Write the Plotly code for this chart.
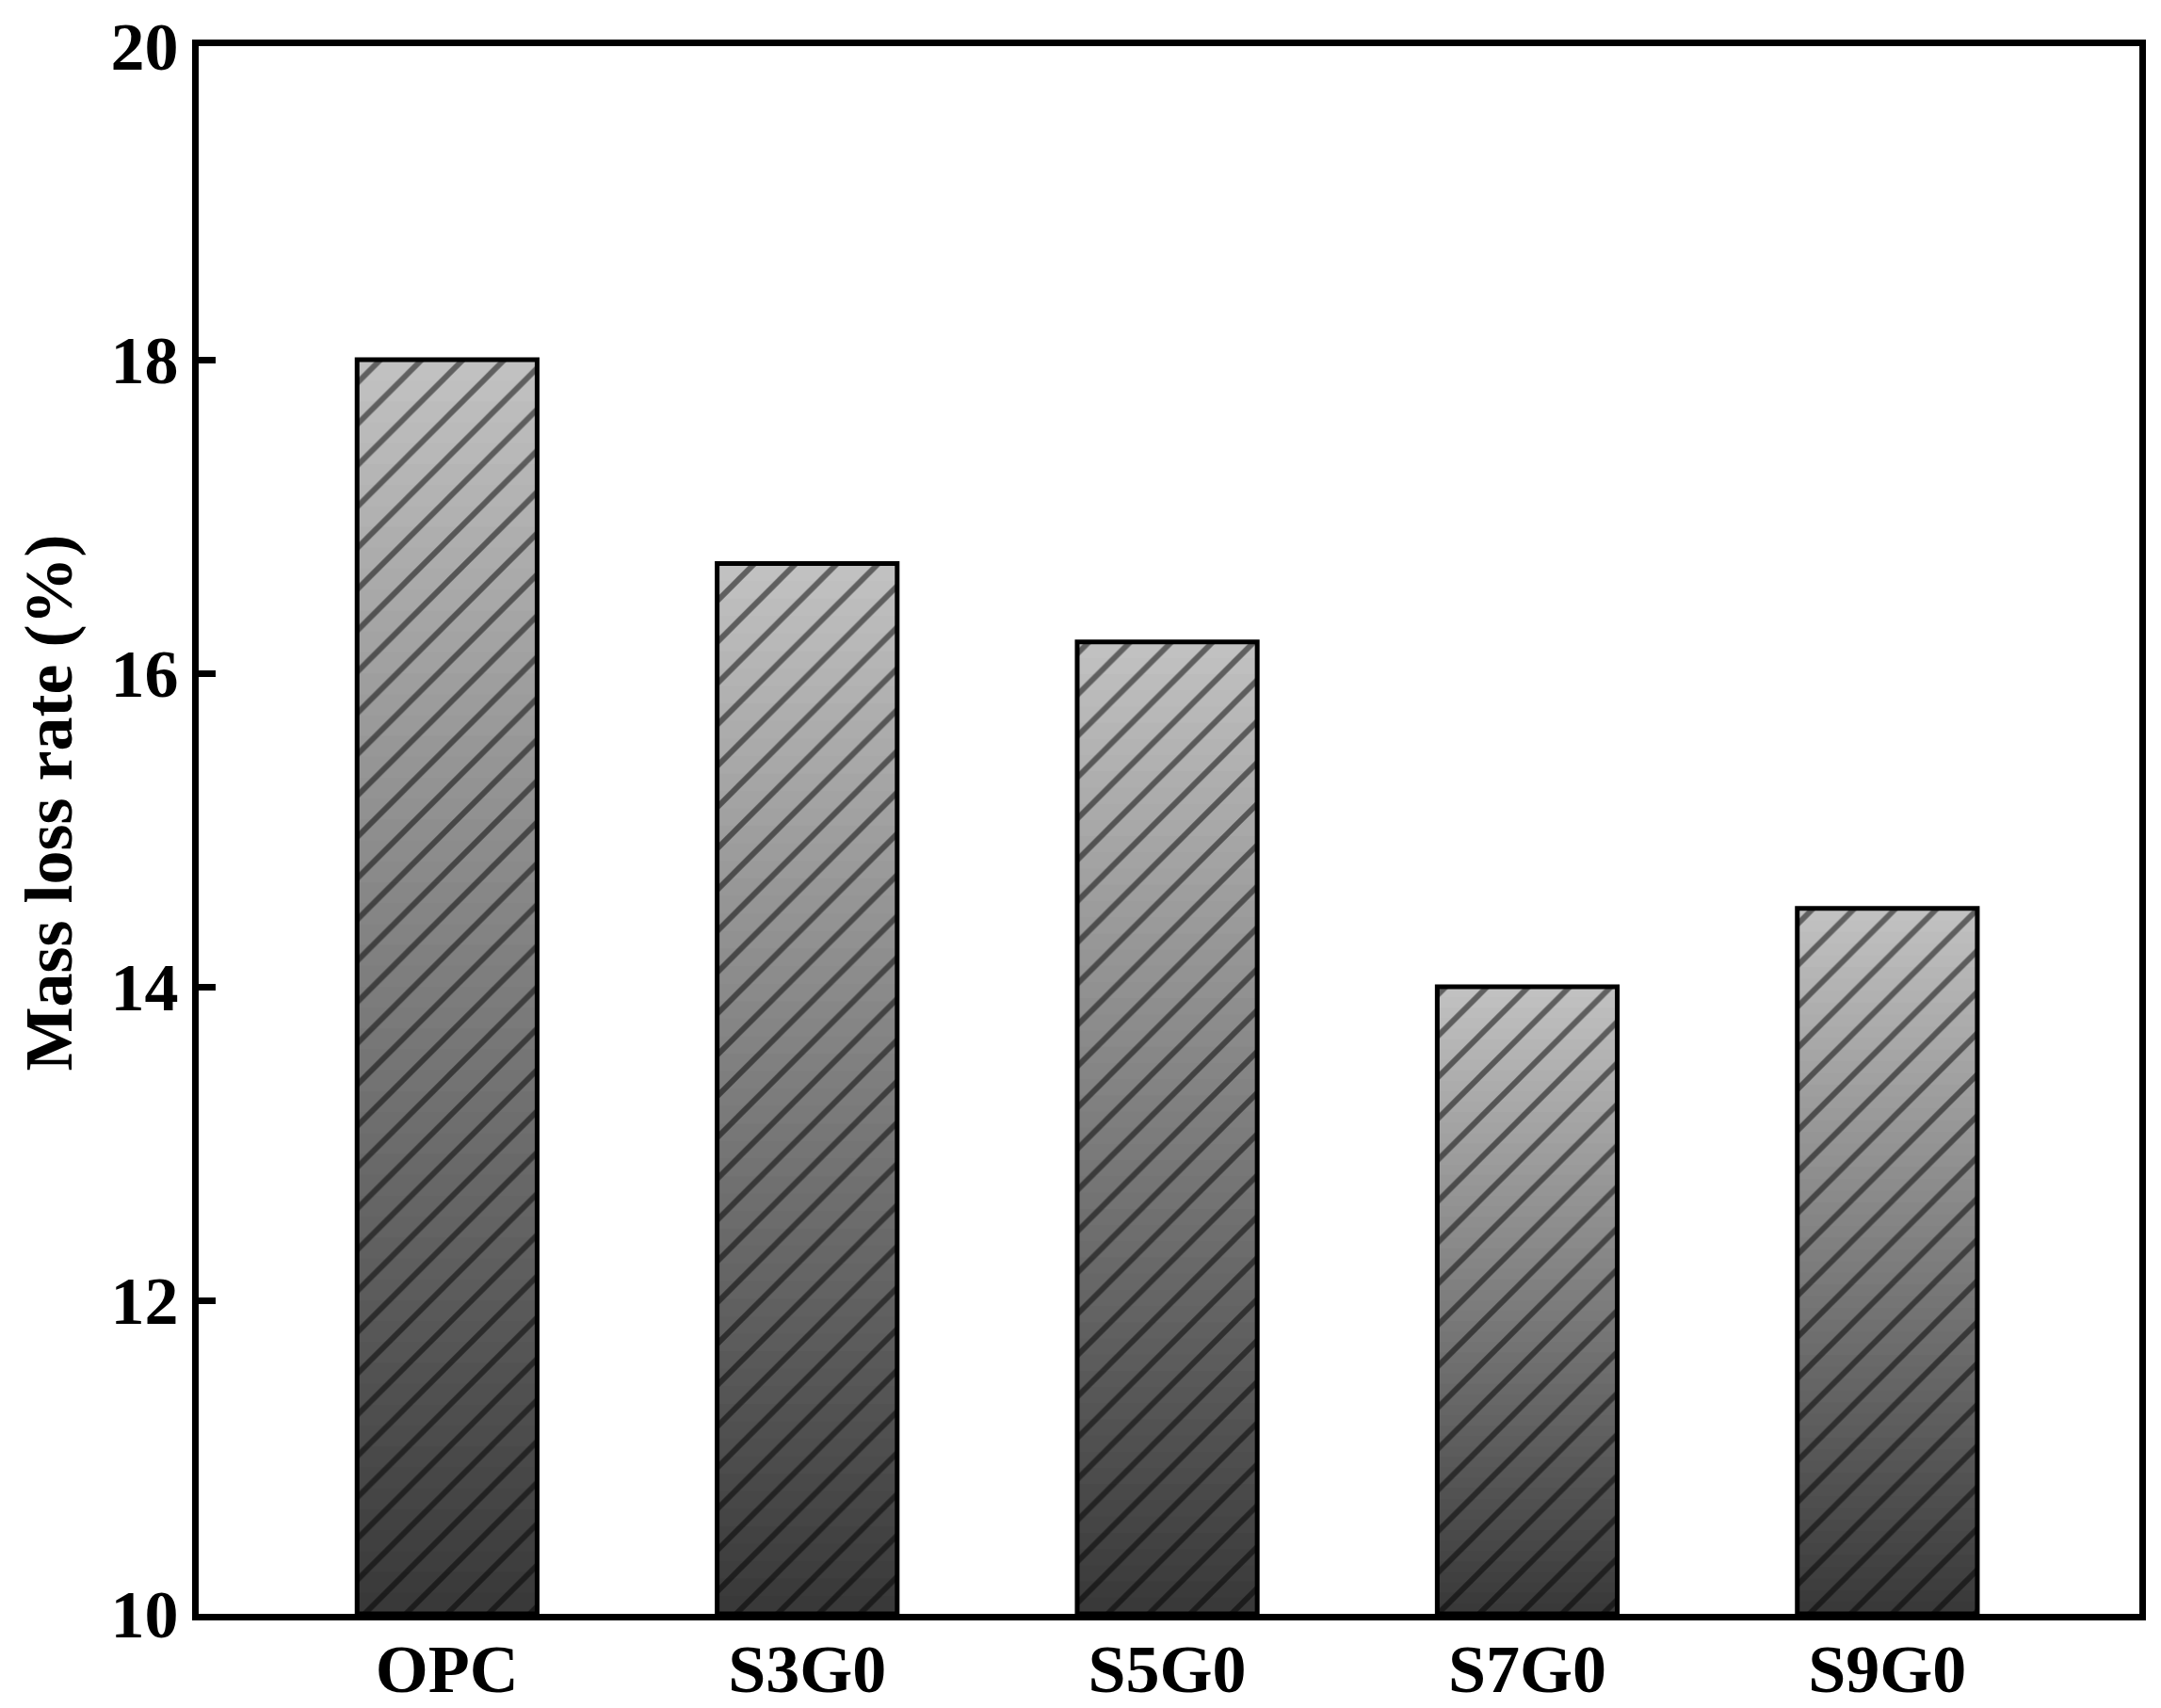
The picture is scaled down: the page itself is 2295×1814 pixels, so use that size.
import plotly.graph_objects as go

# ---- data ----
categories = ["OPC", "S3G0", "S5G0", "S7G0", "S9G0"]
mass_loss = [18.0, 16.7, 16.2, 14.0, 14.5]
y_base = 10
y_ticks = [10, 12, 14, 16, 18, 20]
y_title = "Mass loss rate (%)"

FONT = "Liberation Serif"
FS = 72
N_LEVELS = 60
TOP_GRAY = 194
BOTTOM_GRAY = 56
BAR_W = 0.5

fig = go.Figure()

heights = [v - y_base for v in mass_loss]

# gradient fill: overlapping bars from tallest (lightest) to shortest (darkest)
for k in range(N_LEVELS):
    frac = (N_LEVELS - k) / N_LEVELS
    mid = frac - 0.5 / N_LEVELS
    g = int(round(BOTTOM_GRAY + (TOP_GRAY - BOTTOM_GRAY) * mid))
    fig.add_trace(go.Bar(
        x=categories,
        y=[h * frac for h in heights],
        base=y_base,
        width=BAR_W,
        marker=dict(color=f"rgb({g},{g},{g})", line=dict(width=0)),
        showlegend=False,
        hoverinfo="skip",
    ))

# hatch + outline
fig.add_trace(go.Bar(
    x=categories,
    y=heights,
    base=y_base,
    width=BAR_W,
    marker=dict(
        color="rgba(0,0,0,0)",
        line=dict(color="black", width=5),
        pattern=dict(shape="/", fgcolor="black", bgcolor="rgba(0,0,0,0)",
                     size=31, solidity=0.19, fillmode="overlay"),
    ),
    showlegend=False,
))

fig.update_layout(
    template="none",
    width=2295, height=1814,
    barmode="overlay",
    plot_bgcolor="white", paper_bgcolor="white",
    margin=dict(l=203, r=31, t=41, b=108, autoexpand=False),
    font=dict(family=FONT, color="black", size=FS, weight="bold"),
    annotations=[dict(
        text=y_title, textangle=-90,
        xref="paper", yref="paper", x=0, y=0.5,
        xanchor="center", yanchor="middle",
        xshift=-160, yshift=29, showarrow=False,
        font=dict(family=FONT, size=FS, color="black", weight="bold"),
    )],
)

fig.update_xaxes(
    type="category",
    range=[-0.69, 4.70],
    showline=True, linecolor="black", linewidth=7, mirror=True,
    ticks="", showgrid=False, zeroline=False, automargin=False,
    ticklabelstandoff=-10,
    tickfont=dict(family=FONT, size=FS, color="black", weight="bold"),
)

fig.update_yaxes(
    range=[10, 20],
    tickvals=y_ticks,
    ticktext=[str(t) for t in y_ticks],
    showline=True, linecolor="black", linewidth=7, mirror=True,
    ticks="inside", ticklen=18, tickwidth=7, tickcolor="black",
    showgrid=False, zeroline=False, automargin=False,
    tickfont=dict(family=FONT, size=FS, color="black", weight="bold"),
)

fig.write_html("out.html")
